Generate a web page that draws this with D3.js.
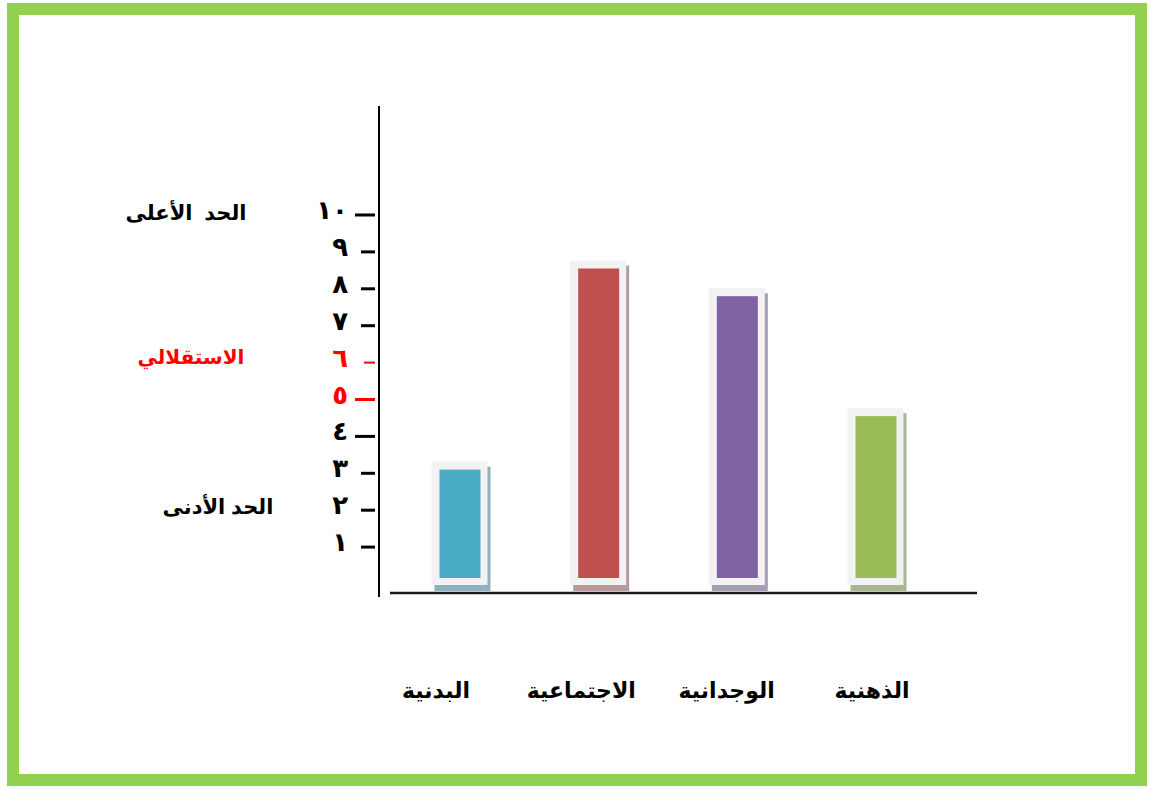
<!DOCTYPE html>
<html>
<head>
<meta charset="utf-8">
<script src="https://cdn.jsdelivr.net/npm/d3@7"></script>
<style>
  html, body { margin: 0; padding: 0; background: #fff; }
  svg { display: block; }
  text { font-family: Arial, "DejaVu Sans", "Noto Sans", sans-serif; font-weight: bold; }
</style>
</head>
<body>
<svg id="chart" width="1151" height="789"></svg>
<script>
// ---- data ----
const categories = ["البدنية", "الاجتماعية", "الوجدانية", "الذهنية"];
const values = [3.1, 8.55, 7.8, 4.55];
const barColors = ["#4bacc6", "#c0504d", "#8064a2", "#9bbb59"];
const shadowColors = ["#8fb1be", "#b89a9a", "#a49db2", "#a9b694"];
const tickValues = [1, 2, 3, 4, 5, 6, 7, 8, 9, 10];
const tickLabels = ["١", "٢", "٣", "٤", "٥", "٦", "٧", "٨", "٩", "١٠"];
const redTicks = [5, 6];
const longTicks = [4, 5, 10];
const levelLabels = ["الحد  الأعلى", "الاستقلالي", "الحد الأدنى"];
const levelValues = [10.05, 6.15, 2.1];
const levelColors = ["#000", "#ff0000", "#000"];

const svg = d3.select("#chart");

// frame
svg.append("rect")
  .attr("x", 13).attr("y", 9).attr("width", 1128).attr("height", 771)
  .attr("fill", "none").attr("stroke", "#92d050").attr("stroke-width", 12);

// scales
const y = d3.scaleLinear().domain([0, 10]).range([584, 215]);
const x = d3.scalePoint().domain(categories).range([460, 876]);
const xLabel = d3.scalePoint().domain(categories).range([436, 872]);
const bw = 41;

// axes lines
svg.append("line").attr("x1", 379).attr("x2", 379).attr("y1", 106).attr("y2", 597)
  .attr("stroke", "#000").attr("stroke-width", 2);
svg.append("line").attr("x1", 390).attr("x2", 977).attr("y1", y(0) + 9).attr("y2", y(0) + 9)
  .attr("stroke", "#1a1a1a").attr("stroke-width", 2.5);

// bars
const g = svg.append("g");
const bars = g.selectAll("g.bar").data(categories).enter().append("g").attr("class", "bar");
bars.append("rect") // shadow
  .attr("x", d => x(d) - bw / 2 - 5)
  .attr("y", (d, i) => y(values[i]) - 3)
  .attr("width", bw + 15)
  .attr("height", (d, i) => y(0) + 7 - y(values[i]) + 3)
  .attr("fill", (d, i) => shadowColors[i]);
bars.append("rect") // frame
  .attr("x", d => x(d) - bw / 2 - 8)
  .attr("y", (d, i) => y(values[i]) - 8)
  .attr("width", bw + 15)
  .attr("height", (d, i) => y(0) + 9 - y(values[i]))
  .attr("fill", "#f2f2f2");
bars.append("rect") // bar
  .attr("x", d => x(d) - bw / 2)
  .attr("y", (d, i) => y(values[i]))
  .attr("width", bw)
  .attr("height", (d, i) => y(0) - 6 - y(values[i]))
  .attr("fill", (d, i) => barColors[i]);

// category labels
svg.selectAll("text.cat").data(categories).enter().append("text")
  .attr("class", "cat")
  .attr("x", d => xLabel(d))
  .attr("y", 698)
  .attr("text-anchor", "middle")
  .attr("font-size", 22)
  .attr("fill", "#000")
  .text(d => d);

// ticks
svg.selectAll("line.tick").data(tickValues).enter().append("line")
  .attr("class", "tick")
  .attr("x1", d => d === 6 ? 364 : (longTicks.includes(d) ? 355 : 361))
  .attr("x2", 375)
  .attr("y1", d => y(d)).attr("y2", d => y(d))
  .attr("stroke", d => redTicks.includes(d) ? "#ff0000" : "#000")
  .attr("stroke-width", d => d === 6 ? 2 : 3);

svg.selectAll("text.tl").data(tickValues).enter().append("text")
  .attr("class", "tl")
  .attr("x", 348)
  .attr("y", d => y(d) + 4)
  .attr("text-anchor", "end")
  .attr("font-size", 26)
  .attr("fill", d => redTicks.includes(d) ? "#ff0000" : "#000")
  .text((d, i) => tickLabels[i]);

// level labels
const levelX = [186, 191, 218];
const levelSize = [21, 20, 21];
svg.selectAll("text.lvl").data(levelLabels).enter().append("text")
  .attr("class", "lvl")
  .attr("x", (d, i) => levelX[i])
  .attr("y", (d, i) => y(levelValues[i]) + 7)
  .attr("text-anchor", "middle")
  .attr("font-size", (d, i) => levelSize[i])
  .attr("fill", (d, i) => levelColors[i])
  .style("white-space", "pre")
  .text(d => d);
</script>
</body>
</html>
